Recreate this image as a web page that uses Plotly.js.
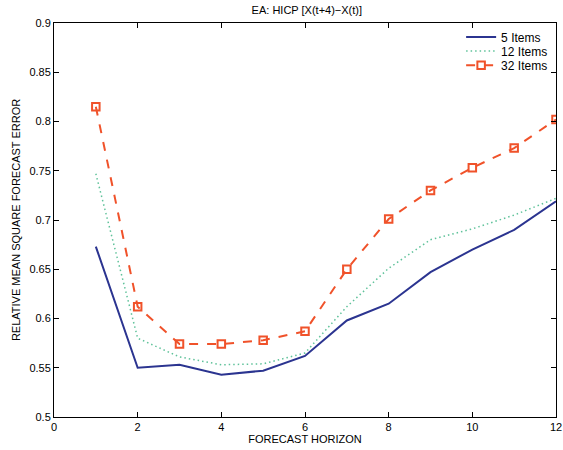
<!DOCTYPE html>
<html>
<head>
<meta charset="utf-8">
<script src="https://cdn.plot.ly/plotly-3.0.1.min.js"></script>
<style>html,body{margin:0;padding:0;background:#fff;}#chart{width:563px;height:450px;}</style>
</head>
<body>
<div id="chart"></div>
<script>
const horizon = [1,2,3,4,5,6,7,8,9,10,11,12];
const items5  = [0.673,0.550,0.553,0.543,0.547,0.562,0.598,0.615,0.647,0.670,0.690,0.719];
const items12 = [0.747,0.580,0.561,0.553,0.554,0.565,0.612,0.651,0.680,0.691,0.705,0.722];
const items32 = [0.815,0.612,0.574,0.574,0.578,0.587,0.650,0.701,0.730,0.753,0.773,0.802];
const seriesNames = ['5 Items','12 Items','32 Items'];
const xTicks = [0,2,4,6,8,10,12];
const yTicks = [0.5,0.55,0.6,0.65,0.7,0.75,0.8,0.85,0.9];

const fam = 'Liberation Sans, Arial, sans-serif';
const font = {family:fam, size:11, color:'#000'};
const traces = [
  {x:horizon, y:items5, name:seriesNames[0], legend:'legend', mode:'lines', line:{color:'#2b3490', width:2}},
  {x:horizon, y:items12, name:seriesNames[1], legend:'legend2', mode:'lines', line:{color:'#5fc29a', width:1.5, dash:'1.5px,3px'}},
  {x:horizon, y:items32, name:seriesNames[2], legend:'legend3', mode:'lines+markers', line:{color:'#f0522a', width:2, dash:'dash'},
   marker:{symbol:'square-open', size:7.5, color:'#f0522a', line:{width:2, color:'#f0522a'}}}
];
const axisCommon = {showgrid:false, zeroline:false, showline:true, linecolor:'#000', linewidth:1,
  mirror:'ticks', ticks:'inside', ticklen:5, tickcolor:'#000', tickfont:font};
function leg(y){
  return {x:0.811, xanchor:'left', y:y, yanchor:'middle', bgcolor:'rgba(255,255,255,0)', borderwidth:0,
    font:{family:fam, size:12, color:'#000'}, itemwidth:30};
}
const layout = {
  width:563, height:450,
  margin:{l:54, r:7, t:23, b:33},
  paper_bgcolor:'#fff', plot_bgcolor:'#fff',
  font:font,
  title:{text:'EA: HICP [X(t+4)\u2212X(t)]', font:{family:fam, size:11, color:'#000'}, x:0.545, xanchor:'center', y:0.985, yanchor:'top'},
  xaxis:Object.assign({}, axisCommon, {range:[0,12], tickvals:xTicks, ticktext:xTicks.map(String),
    title:{text:'FORECAST HORIZON', font:{family:fam, size:11, color:'#000'}, standoff:2}}),
  yaxis:Object.assign({}, axisCommon, {range:[0.5,0.9], tickvals:yTicks, ticktext:yTicks.map(v=>String(v)),
    title:{text:'RELATIVE MEAN SQUARE FORECAST ERROR', font:{family:fam, size:11, color:'#000'}, standoff:6}}),
  legend:leg(0.9645),
  legend2:leg(0.929),
  legend3:leg(0.893),
  showlegend:true
};
Plotly.newPlot('chart', traces, layout, {displayModeBar:false, staticPlot:true});
</script>
</body>
</html>
